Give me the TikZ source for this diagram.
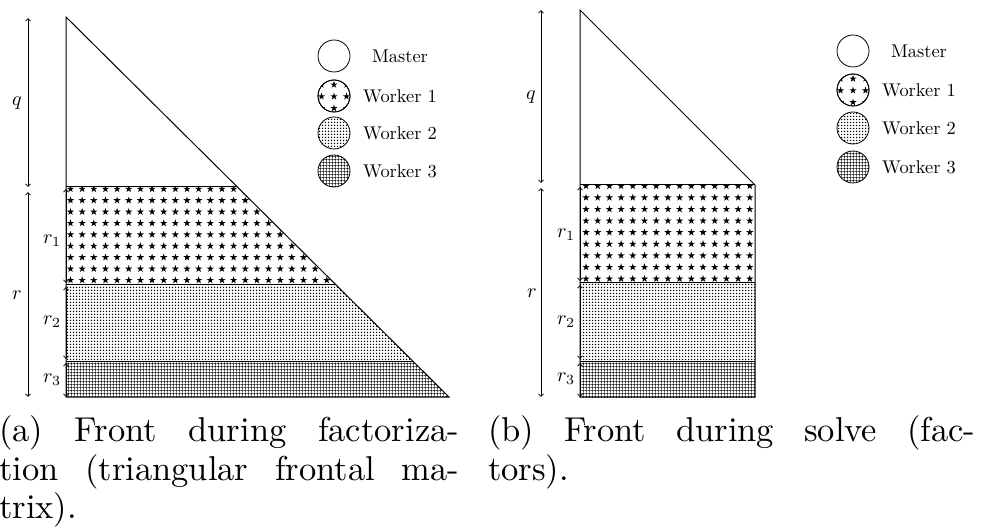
\documentclass[tikz,border=0pt]{standalone}
\usetikzlibrary{arrows.meta,patterns.meta}
\tikzdeclarepattern{name=wdots, type=uncolored,
  bottom left={(-.1pt,-.1pt)}, top right={(3.1pt,3.1pt)}, tile size={(3pt,3pt)},
  code={\fill (1.5pt,1.5pt) circle (.75pt);}}
\tikzdeclarepattern{name=wgrid, type=uncolored,
  bottom left={(0pt,0pt)}, top right={(2.8pt,2.8pt)}, tile size={(2.8pt,2.8pt)},
  code={\draw[line width=.42pt] (0pt,1.4pt) -- (2.8pt,1.4pt) (1.4pt,0pt) -- (1.4pt,2.8pt);}}
\tikzset{
  wstar/.pic={\fill (90:3.8pt) -- (126:1.45pt) -- (162:3.8pt) -- (198:1.45pt) -- (234:3.8pt) -- (270:1.45pt) -- (306:3.8pt) -- (342:1.45pt) -- (18:3.8pt) -- (54:1.45pt) -- cycle;},
  outline/.style={line width=1pt, line join=miter},
  dimline/.style={line width=.7pt, {Straight Barb[length=2.6pt,width=5pt]}-{Straight Barb[length=2.6pt,width=5pt]}},
  legc/.style={circle, draw, line width=.8pt, minimum size=32pt, inner sep=0pt},
  lab/.style={inner sep=0pt},
}
\newcommand\captext[2]{\scalebox{3.45}{\parbox[t]{#1}{\tolerance=10000\hbadness=10000\baselineskip=11.2pt #2}}}
\begin{document}
\begin{tikzpicture}[x=1pt,y=-1pt]
\useasboundingbox (0,0) rectangle (988,529);

% ================= (a) =================
\coordinate (aA) at (66,17);
\coordinate (aB) at (449,397);
\coordinate (aC) at (66,397);
% fills
\begin{scope}
  \clip (66,187) -- (237.3,187) -- (336.1,285) -- (66,285) -- cycle;
  \foreach \i in {0,...,23} \foreach \j in {0,...,8}
    \pic at ({70.5+11.65*\i},{189+11.4*\j}) {wstar};
\end{scope}
\fill[pattern=wdots] (66,285) -- (336.1,285) -- (412.7,361) -- (66,361) -- cycle;
\fill[pattern=wgrid] (66,361) -- (412.7,361) -- (449,397) -- (66,397) -- cycle;
\draw[outline] (aA) -- (aB) -- (aC) -- cycle;
\draw[outline] (66,187) -- (237.3,187);
\draw[outline] (66,285) -- (336.1,285);
\draw[outline] (66,361) -- (412.7,361);
% dimensions
\coordinate (aq1) at (28,18); \coordinate (aq2) at (28,187);
\coordinate (ar1) at (28,192); \coordinate (ar2) at (28,397);
\draw[dimline] (aq1) -- (aq2);
\draw[dimline] (ar1) -- (ar2);
\coordinate (ad1) at (66,189); \coordinate (ad2) at (66,283);
\coordinate (ad3) at (66,287); \coordinate (ad4) at (66,359);
\coordinate (ad5) at (66,363); \coordinate (ad6) at (66,397);
\draw[dimline] (ad1) -- (ad2);
\draw[dimline] (ad3) -- (ad4);
\draw[dimline] (ad5) -- (ad6);
\node[lab] (aql) at (17,103) {\scalebox{2}{$q$}};
\node[lab] (arl) at (17,295) {\scalebox{2}{$r$}};
\node[lab] (ar1l) at (52,241) {\scalebox{2}{$r_1$}};
\node[lab] (ar2l) at (52,322) {\scalebox{2}{$r_2$}};
\node[lab] (ar3l) at (52,380) {\scalebox{2}{$r_3$}};
% legend
\node[legc] (am) at (334,56) {};
\node[legc] (aw1) at (334,96) {};
\node[legc, pattern=wdots] (aw2) at (334,133) {};
\node[legc, pattern=wgrid] (aw3) at (334,171) {};
\begin{scope}
  \clip (aw1.center) circle (16pt);
  \foreach \i in {-1,0,1} \foreach \j in {-1,0,1}
    \pic at ({334+12.5*\i},{96.5+11.8*\j}) {wstar};
\end{scope}
\draw[line width=.8pt] (aw1.center) circle (16pt);
\node[lab] (amt) at (400,56) {\scalebox{1.84}{Master}};
\node[lab] (aw1t) at (400,96) {\scalebox{1.84}{Worker 1}};
\node[lab] (aw2t) at (400,133) {\scalebox{1.84}{Worker 2}};
\node[lab] (aw3t) at (400,171) {\scalebox{1.84}{Worker 3}};

% ================= (b) =================
\coordinate (bA) at (580,10);
\coordinate (bB) at (755,185);
\coordinate (bC) at (755,397);
\coordinate (bD) at (580,397);
\begin{scope}
  \clip (580,185) rectangle (755,283);
  \foreach \i in {0,...,14} \foreach \j in {0,...,8}
    \pic at ({586+11.7*\i},{186+11.6*\j}) {wstar};
\end{scope}
\fill[pattern=wdots] (580,283) rectangle (755,361);
\fill[pattern=wgrid] (580,361) rectangle (755,397);
\draw[outline] (bA) -- (bB) -- (bC) -- (bD) -- cycle;
\draw[outline] (580,185) -- (755,185);
\draw[outline] (580,283) -- (755,283);
\draw[outline] (580,361) -- (755,361);
\coordinate (bq1) at (541,10); \coordinate (bq2) at (541,183);
\coordinate (br1) at (541,188); \coordinate (br2) at (541,397);
\draw[dimline] (bq1) -- (bq2);
\draw[dimline] (br1) -- (br2);
\coordinate (bd1) at (580,187); \coordinate (bd2) at (580,281);
\coordinate (bd3) at (580,285); \coordinate (bd4) at (580,359);
\coordinate (bd5) at (580,363); \coordinate (bd6) at (580,397);
\draw[dimline] (bd1) -- (bd2);
\draw[dimline] (bd3) -- (bd4);
\draw[dimline] (bd5) -- (bd6);
\node[lab] (bql) at (531,97) {\scalebox{2}{$q$}};
\node[lab] (brl) at (532,293) {\scalebox{2}{$r$}};
\node[lab] (br1l) at (566,235) {\scalebox{2}{$r_1$}};
\node[lab] (br2l) at (566,322) {\scalebox{2}{$r_2$}};
\node[lab] (br3l) at (566,379) {\scalebox{2}{$r_3$}};
\node[legc] (bm) at (853,51) {};
\node[legc] (bw1) at (853,90) {};
\node[legc, pattern=wdots] (bw2) at (853,128) {};
\node[legc, pattern=wgrid] (bw3) at (853,167) {};
\begin{scope}
  \clip (bw1.center) circle (16pt);
  \foreach \i in {-1,0,1} \foreach \j in {-1,0,1}
    \pic at ({853+12.5*\i},{90.5+11.8*\j}) {wstar};
\end{scope}
\draw[line width=.8pt] (bw1.center) circle (16pt);
\node[lab] (bmt) at (919,51) {\scalebox{1.84}{Master}};
\node[lab] (bw1t) at (919,90) {\scalebox{1.84}{Worker 1}};
\node[lab] (bw2t) at (919,128) {\scalebox{1.84}{Worker 2}};
\node[lab] (bw3t) at (919,167) {\scalebox{1.84}{Worker 3}};

% ================= captions =================
\node[lab, anchor=base west] (capa) at (-1,441.7)
  {\captext{133.3pt}{(a) Front during factoriza-\linebreak tion (triangular frontal ma-\linebreak trix).}};
\node[lab, anchor=base west] (capb) at (488,441.7)
  {\captext{141.2pt}{(b) Front during solve (fac-\linebreak tors).}};
\end{tikzpicture}
\end{document}
